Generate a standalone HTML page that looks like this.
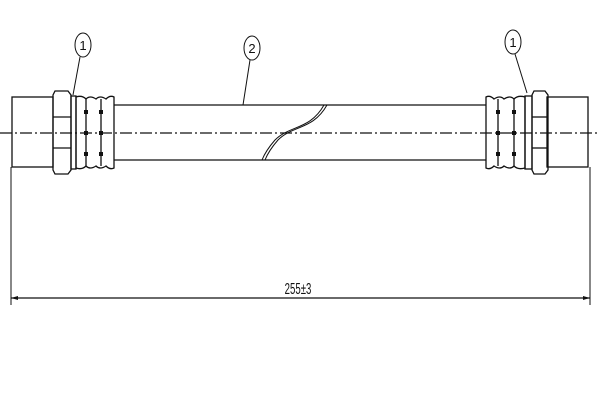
<!DOCTYPE html>
<html><head><style>body{margin:0;background:#fff}svg{display:block}</style></head><body>
<svg width="600" height="400" viewBox="0 0 600 400" xmlns="http://www.w3.org/2000/svg" font-family="Liberation Sans, sans-serif">
<g fill="none" stroke="#111" stroke-width="1.3">
<line x1="114" y1="105" x2="486" y2="105"/>
<line x1="114" y1="160" x2="486" y2="160"/>
<path d="M324 105 C310 130 290 125 275 140 C268 148 264 155 262 160" stroke-width="1"/>
<path d="M327 105 C313 130 293 125 278 140 C271 148 267 155 265 160" stroke-width="1"/>
<rect x="12" y="97" width="41" height="70"/>
<path d="M55 91 H68 L71 95 V170 L68 174 H55 L53 170 V95 Z"/>
<line x1="53" y1="117" x2="71" y2="117"/><line x1="53" y1="148" x2="71" y2="148"/>
<rect x="71" y="96" width="5" height="73"/>
<path d="M76 97 Q82 95 86 99 Q90 95 96 99 Q100 95 106 99 Q110 95 114 97 V168 Q110 170 106 166 Q100 170 96 166 Q90 170 86 166 Q82 170 76 168 Z"/>
<line x1="86" y1="99" x2="86" y2="166"/><line x1="101" y1="99" x2="101" y2="166"/>
<rect x="547" y="97" width="41" height="70"/>
<path d="M534 91 H545 L548 95 V170 L545 174 H534 L532 170 V95 Z"/>
<line x1="532" y1="117" x2="548" y2="117"/><line x1="532" y1="148" x2="548" y2="148"/>
<rect x="525" y="96" width="7" height="73"/>
<path d="M486 97 Q490 95 494 99 Q500 95 504 99 Q510 95 514 99 Q518 95 525 97 V168 Q518 170 514 166 Q510 170 504 166 Q500 170 494 166 Q490 170 486 168 Z"/>
<line x1="498" y1="99" x2="498" y2="166"/><line x1="514" y1="99" x2="514" y2="166"/>
<line x1="11" y1="167" x2="11" y2="305" stroke-width="1"/>
<line x1="590" y1="167" x2="590" y2="305" stroke-width="1"/>
<line x1="11" y1="298" x2="590" y2="298"/>
<ellipse cx="83" cy="45" rx="8" ry="12" stroke-width="1"/>
<line x1="80" y1="57" x2="73" y2="95" stroke-width="1"/>
<ellipse cx="252" cy="48" rx="8" ry="12" stroke-width="1"/>
<line x1="250" y1="60" x2="243" y2="105" stroke-width="1"/>
<ellipse cx="513" cy="42" rx="8" ry="12" stroke-width="1"/>
<line x1="515" y1="54" x2="527" y2="93" stroke-width="1"/>
</g>
<line x1="0" y1="133" x2="600" y2="133" stroke="#111" stroke-width="1.2" stroke-dasharray="12,3,2,3"/>
<g fill="#111">
<rect x="84" y="110" width="4" height="4"/><rect x="84" y="131" width="4" height="4"/><rect x="84" y="152" width="4" height="4"/>
<rect x="99" y="110" width="4" height="4"/><rect x="99" y="131" width="4" height="4"/><rect x="99" y="152" width="4" height="4"/>
<rect x="496" y="110" width="4" height="4"/><rect x="496" y="131" width="4" height="4"/><rect x="496" y="152" width="4" height="4"/>
<rect x="512" y="110" width="4" height="4"/><rect x="512" y="131" width="4" height="4"/><rect x="512" y="152" width="4" height="4"/>
</g>
<path d="M11 298 l7 -2 v4 z M590 298 l-7 -2 v4 z" fill="#111"/>
<g fill="#111" font-size="13" text-anchor="middle">
<text x="83" y="50">1</text><text x="252" y="53">2</text><text x="513" y="47">1</text>
<text x="298" y="294" font-size="16" transform="translate(298 0) scale(0.6 1) translate(-298 0)">255±3</text>
</g>
</svg>
</body></html>
